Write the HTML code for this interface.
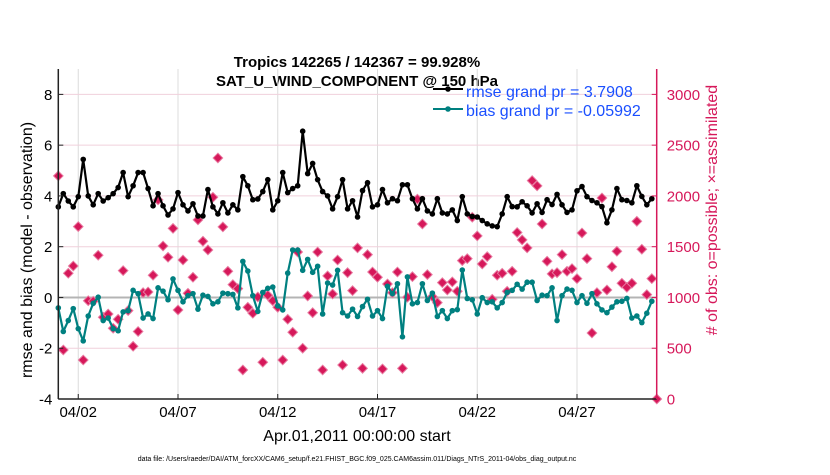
<!DOCTYPE html>
<html><head><meta charset="utf-8"><style>
body{margin:0;background:#fff;font-family:"Liberation Sans",sans-serif}
svg text{font-family:"Liberation Sans",sans-serif}
</style></head><body>
<svg id="chart" width="830" height="470" xmlns="http://www.w3.org/2000/svg">
<rect width="830" height="470" fill="#fff"/>
<text x="357" y="67" text-anchor="middle" font-size="15" font-weight="bold">Tropics 142265 / 142367 = 99.928%</text>
<text x="357" y="86" text-anchor="middle" font-size="15" font-weight="bold">SAT_U_WIND_COMPONENT @ 150 hPa</text>
<g id="grid"></g><g id="zero"></g><g id="series"></g><g id="axes"></g>
<g>
<line x1="433" y1="89" x2="463" y2="89" stroke="#000" stroke-width="2"/><circle cx="448" cy="89" r="2.8" fill="#000"/>
<text x="466" y="97" font-size="16" fill="#1a4fff">rmse grand pr = 3.7908</text>
<line x1="433" y1="109" x2="463" y2="109" stroke="#008080" stroke-width="2"/><circle cx="448" cy="109" r="2.8" fill="#008080"/>
<text x="466" y="116" font-size="16" fill="#1a4fff">bias grand pr = -0.05992</text>
</g>
<text transform="translate(32,250) rotate(-90)" text-anchor="middle" font-size="16">rmse and bias (model - observation)</text>
<text transform="translate(717,210) rotate(-90)" text-anchor="middle" font-size="16" fill="#d6185a"># of obs: o=possible; ×=assimilated</text>
<text x="357" y="441" text-anchor="middle" font-size="16">Apr.01,2011 00:00:00 start</text>
<text x="357" y="461" text-anchor="middle" font-size="7">data file: /Users/raeder/DAI/ATM_forcXX/CAM6_setup/f.e21.FHIST_BGC.f09_025.CAM6assim.011/Diags_NTrS_2011-04/obs_diag_output.nc</text>
</svg>
<script>
const rmse=[3.57,4.09,3.8,3.57,3.97,5.44,4.0,3.65,4.09,3.8,3.93,4.09,4.33,4.92,3.97,4.4,4.92,4.92,4.29,3.61,4.09,3.61,3.25,3.49,4.13,3.65,3.41,3.69,3.21,3.21,4.25,3.57,3.29,3.73,3.33,3.65,3.45,4.76,4.4,3.85,3.88,4.17,4.64,3.45,3.81,4.92,4.13,4.29,4.4,6.55,4.88,5.28,4.64,4.17,4.0,3.49,3.97,4.64,3.49,3.81,3.17,4.21,4.52,3.57,3.65,4.25,3.73,3.89,3.81,4.44,4.44,3.89,3.49,3.89,3.41,3.29,3.89,3.33,3.29,3.45,3.03,3.97,3.29,3.19,3.17,3.03,2.9,2.82,2.79,3.29,3.97,3.58,3.57,3.77,3.61,3.33,3.69,3.35,3.85,3.66,4.06,3.65,3.35,3.45,4.2,4.37,3.97,3.82,3.73,3.58,2.94,3.45,4.29,3.85,3.82,3.73,4.4,3.98,3.65,3.89];
const bias=[-0.41,-1.34,-0.91,-0.44,-1.23,-1.71,-0.73,-0.23,0.01,-0.91,-0.81,-1.23,-1.31,-0.57,-0.52,0.28,0.15,-0.81,-0.65,-0.83,0.38,0.25,-0.09,0.73,0.28,-0.17,0.07,0.15,-0.46,0.09,0.04,-0.25,-0.17,0.17,0.15,0.12,-0.41,1.42,1.04,0.07,-0.55,0.2,0.36,0.41,-0.33,-0.49,0.96,1.87,1.87,1.07,1.5,0.99,1.23,-0.65,0.57,0.49,1.07,-0.6,-0.73,-0.46,-0.75,-0.36,-0.07,-0.73,-0.52,-0.83,0.44,0.15,0.54,-1.55,0.81,-0.25,-0.2,0.54,-0.12,0.17,-0.75,-0.52,-0.83,-0.52,-0.48,1.08,-0.04,-0.09,-0.65,-0.01,-0.2,-0.17,-0.41,-0.2,0.2,0.28,0.52,0.33,0.6,0.6,-0.12,0.09,0.07,0.38,-0.91,0.07,0.33,0.28,-0.2,0.07,-0.23,0.15,-0.25,-0.49,-0.6,-0.38,-0.17,-0.15,-0.04,-0.81,-0.73,-0.99,-0.62,-0.15];
const obsCount=[2197,483,1238,1310,1698,384,968,963,1416,805,837,697,785,1264,870,519,665,1047,1054,1219,1961,1507,1396,1680,877,1369,1041,1199,1764,1554,1468,1987,2374,1695,1258,1126,1087,286,903,844,1005,362,1022,968,903,384,785,657,1448,500,1015,850,1448,286,1212,1034,1369,335,1244,1067,1488,302,1422,1251,1199,296,1133,1047,1251,302,1002,1205,1968,1724,1225,1008,949,1146,1074,1153,1061,1363,1382,1790,1606,1330,1402,982,1219,1238,1061,1258,1640,1567,1488,2151,2099,1724,1357,1232,1244,1422,1258,1284,1185,1635,1382,650,1047,1980,1074,1303,1455,1140,1100,1140,1750,1475,1028,1185,0];
const leftTicks=[-4,-2,0,2,4,6,8];
const rightTicks=[0,500,1000,1500,2000,2500,3000];
const xTickDays=[1,6,11,16,21,26];
const xTickLabels=["04/02","04/07","04/12","04/17","04/22","04/27"];

const NS="http://www.w3.org/2000/svg";
const L=58.3,R=656.7,T=69,B=399;
const xs=d=>L+d*19.95;
const yl=v=>B-(v+4)*(B-T)/13;
const yr=v=>B-v*(B-T)/3250;
function mk(tag,attrs,parent){const e=document.createElementNS(NS,tag);for(const k in attrs)e.setAttribute(k,attrs[k]);parent.appendChild(e);return e;}
const grid=document.getElementById('grid'),axes=document.getElementById('axes'),series=document.getElementById('series'),zero=document.getElementById('zero');
const CR="#d6185a";
xTickDays.forEach((d,i)=>{
  const g=mk('line',{x1:xs(d),x2:xs(d),y1:T,y2:B,stroke:'#dcdcdc','stroke-width':1},grid);
  
  
  const t=mk('line',{x1:xs(d),x2:xs(d),y1:B,y2:B-5,stroke:'#222','stroke-width':1},axes);
  
  
  const lb=mk('text',{x:xs(d),y:B+18,'text-anchor':'middle','font-size':15},axes);
  lb.textContent=xTickLabels[i];
  
  
});
rightTicks.forEach(v=>{
  if(v>0){const g=mk('line',{x1:L,x2:R,y1:yr(v),y2:yr(v),stroke:'#f0d0dc','stroke-width':1},grid);
  
  }
  const t=mk('line',{x1:R,x2:R-5,y1:yr(v),y2:yr(v),stroke:CR,'stroke-width':1},axes);
  
  
  const lb=mk('text',{x:R+10,y:yr(v)+5.5,'font-size':15,fill:CR},axes);
  lb.textContent=v;
  
  
});
leftTicks.forEach(v=>{
  const t=mk('line',{x1:L,x2:L+5,y1:yl(v),y2:yl(v),stroke:'#222','stroke-width':1},axes);
  
  
  const lb=mk('text',{x:L-6,y:yl(v)+5.5,'text-anchor':'end','font-size':15},axes);
  lb.textContent=v;
  
  
});
const zl=mk('line',{x1:L,x2:R,y1:yl(0),y2:yl(0),stroke:'#b4b4b4','stroke-width':2},zero);


const ax1=mk('line',{x1:L,x2:L,y1:T,y2:B,stroke:'#222','stroke-width':1.5},axes);


const ax2=mk('line',{x1:L,x2:R,y1:B,y2:B,stroke:'#222','stroke-width':1.5},axes);


const ax3=mk('line',{x1:R,x2:R,y1:T,y2:B,stroke:CR,'stroke-width':1.5},axes);


obsCount.forEach((v,i)=>{
  const x=xs(i/4),y=yr(v),s=4.8;
  const p=mk('polygon',{points:`${x},${y-s} ${x+s},${y} ${x},${y+s} ${x-s},${y}`,fill:CR,stroke:'#e87aa0','stroke-width':1},series);
  
  
});
function line(arr,color,name){
  const pts=arr.map((v,i)=>`${xs(i/4).toFixed(1)},${yl(v).toFixed(1)}`).join(' ');
  const pl=mk('polyline',{points:pts,fill:'none',stroke:color,'stroke-width':2.2,'stroke-linejoin':'round'},series);
  
  
  arr.forEach((v,i)=>{const c=mk('circle',{cx:xs(i/4),cy:yl(v),r:2.8,fill:color},series);
    
    });
}
line(bias,'#008080','bias');
line(rmse,'#000','rmse');
</script>
</body></html>
